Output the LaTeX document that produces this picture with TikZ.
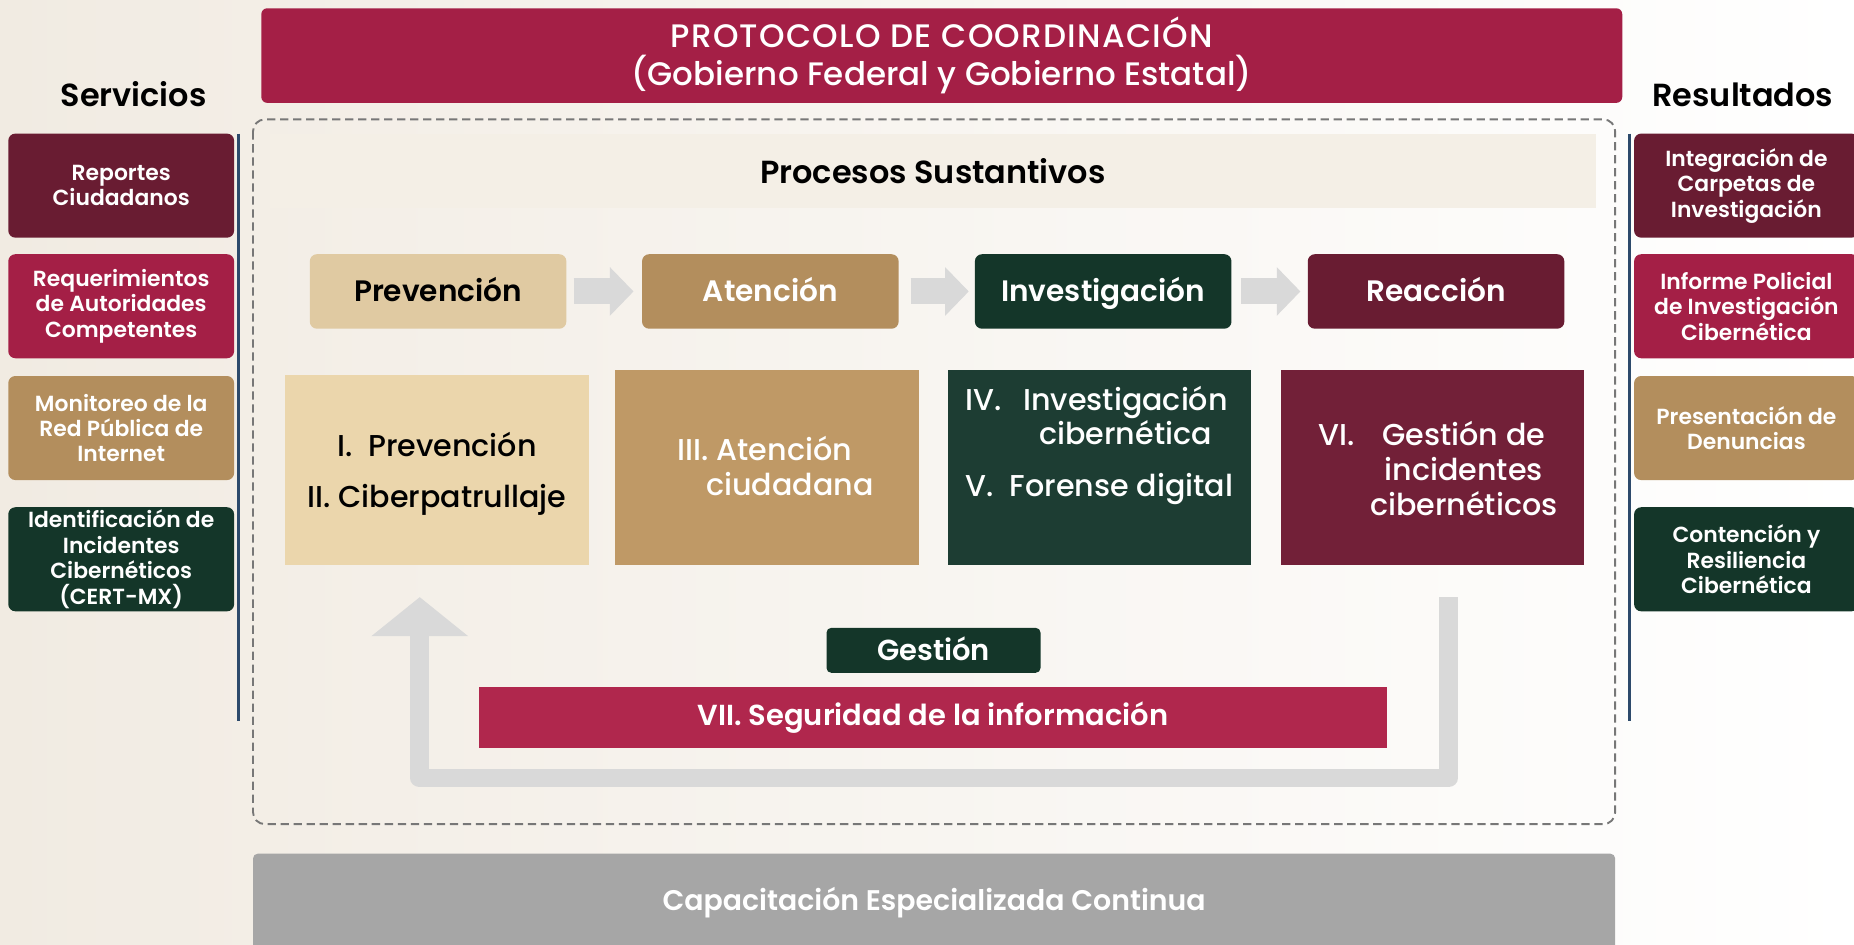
\documentclass[tikz,border=0pt]{standalone}
\usepackage{fontspec}
\setmainfont{Poppins}
\IfFontExistsTF{Poppins Medium}{\newfontfamily\fmed{Poppins Medium}}{\newfontfamily\fmed{Poppins}}
\IfFontExistsTF{Poppins SemiBold}{\newfontfamily\fsemi{Poppins SemiBold}}{\let\fsemi\bfseries}
\usetikzlibrary{arrows.meta,calc}
\definecolor{crimson}{HTML}{A41F46}
\definecolor{maroon}{HTML}{691C32}
\definecolor{gold}{HTML}{B38E5D}
\definecolor{dgreen}{HTML}{143629}
\definecolor{tanlight}{HTML}{E0CAA2}
\definecolor{beige}{HTML}{EBD6AC}
\definecolor{tanmid}{HTML}{BF9966}
\definecolor{cgreen}{HTML}{1D3D33}
\definecolor{cmaroon}{HTML}{722038}
\definecolor{seccol}{HTML}{B0274D}
\definecolor{arrowgray}{HTML}{D9D9D9}
\definecolor{bargray}{HTML}{A6A6A6}
\definecolor{bandcol}{HTML}{F4EFE6}
\definecolor{navy}{HTML}{2D4A6B}
\definecolor{dashgray}{HTML}{777777}
\definecolor{bgL}{HTML}{F1EBE2}
\definecolor{bgM}{HTML}{FAF8F4}
\newcommand\fsz[2]{\fontsize{#1}{#2}\selectfont}
\tikzset{
  sidebox/.style={rectangle, rounded corners=6pt, inner sep=0pt, minimum width=191pt, minimum height=88pt, align=center, text=white, font=\fsemi\fsz{18.5}{21.5}},
  stagebox/.style={rectangle, rounded corners=6pt, inner sep=0pt, minimum width=217pt, minimum height=63pt, align=center, text height=20pt, text depth=2.5pt, font=\fsemi\fsz{25}{28}},
  contbox/.style={rectangle, inner sep=0pt, minimum width=257pt, align=center, font=\fmed\fsz{25.5}{29.5}},
  conttext/.style={inner sep=0pt, font=\fmed\fsz{25.5}{29.5}},
  flowarrow/.style={draw=arrowgray, line width=22pt, -{Triangle[length=20pt,width=40pt]}},
  loopline/.style={draw=arrowgray, line width=16pt, line join=round, -{Triangle[length=33pt,width=80pt]}},
}
\begin{document}
\begin{tikzpicture}[x=1pt,y=-1pt]
\useasboundingbox (0,0) rectangle (1568,799);
\shade[left color=bgL, middle color=bgM, right color=white] (0,0) rectangle (1568,799);

% title banner
\node[rectangle, rounded corners=5pt, fill=crimson, minimum width=1151pt, minimum height=80pt, inner sep=0pt, text=white, align=center, font=\fmed\fsz{27.5}{32}] (title) at (796.5,47) {\addfontfeatures{LetterSpace=4}PROTOCOLO DE COORDINACIÓN\\(Gobierno Federal y Gobierno Estatal)};

% column titles
\node[font=\fsemi\fsz{27}{30}] (serv) at (113,80) {Servicios};
\node[font=\fsemi\fsz{27}{30}] (res) at (1474,80) {Resultados};

% dashed container
\draw[dashgray, dashed, line width=1.6pt, dash pattern=on 7pt off 4pt, rounded corners=10pt] (214,101) rectangle (1366,697);

% procesos band
\node[rectangle, fill=bandcol, minimum width=1122pt, minimum height=63pt, inner sep=0pt, font=\fsemi\fsz{27}{30}] (band) at (789,144.5) {Procesos Sustantivos};

% vertical lines
\coordinate (lt) at (202,113); \coordinate (lb) at (202,610);
\coordinate (rt) at (1378,113); \coordinate (rb) at (1378,610);
\draw[navy, line width=2.5pt] (lt) -- (lb);
\draw[navy, line width=2.5pt] (rt) -- (rb);

% left boxes
\node[sidebox, fill=maroon] (s1) at (102.5,157) {Reportes\\Ciudadanos};
\node[sidebox, fill=crimson] (s2) at (102.5,259) {Requerimientos\\de Autoridades\\Competentes};
\node[sidebox, fill=gold] (s3) at (102.5,362) {Monitoreo de la\\Red Pública de\\Internet};
\node[sidebox, fill=dgreen] (s4) at (102.5,473) {Identificación de\\Incidentes\\Cibernéticos\\(CERT-MX)};

% right boxes
\node[sidebox, fill=maroon, minimum width=190pt] (r1) at (1477,157) {Integración de\\Carpetas de\\Investigación};
\node[sidebox, fill=crimson, minimum width=190pt] (r2) at (1477,259) {Informe Policial\\de Investigación\\Cibernética};
\node[sidebox, fill=gold, minimum width=190pt] (r3) at (1477,362) {Presentación de\\Denuncias};
\node[sidebox, fill=dgreen, minimum width=190pt] (r4) at (1477,473) {Contención y\\Resiliencia\\Cibernética};

% stage headers
\node[stagebox, fill=tanlight, text=black] (h1) at (370.5,246.5) {Prevención};
\node[stagebox, fill=gold, text=white] (h2) at (651.5,246.5) {Atención};
\node[stagebox, fill=dgreen, text=white] (h3) at (933,246.5) {Investigación};
\node[stagebox, fill=maroon, text=white] (h4) at (1214.5,246.5) {Reacción};

\draw[flowarrow] ([xshift=6pt]h1.east) -- ([xshift=-7pt]h2.west);
\draw[flowarrow] ([xshift=10pt]h2.east) -- ([xshift=-5pt]h3.west);
\draw[flowarrow] ([xshift=8pt]h3.east) -- ([xshift=-6pt]h4.west);

% content boxes
\node[contbox, fill=beige, minimum height=161pt] (c1) at (369.5,397.5) {};
\node[conttext, text=black, align=center, anchor=base] (c1t) at (369.5,429) {I.\ \ Prevención\\[13pt]II. Ciberpatrullaje};
\node[contbox, fill=tanmid, minimum height=165pt] (c2) at (648.5,395.5) {};
\node[conttext, text=white, align=left, anchor=base west] (c2t) at (573,419) {III. Atención\\\hspace*{24pt}ciudadana};
\node[contbox, fill=cgreen, minimum height=165pt, minimum width=256pt] (c3) at (930,395.5) {};
\node[conttext, text=white, anchor=north] (c3t) at (930,326) {\begin{tabular}{@{}l@{\ \ }c@{}}IV. & Investigación\\ & cibernética\\[14pt]\multicolumn{2}{@{}l@{}}{V.\ \ Forense digital}\end{tabular}};
\node[contbox, fill=cmaroon, minimum height=165pt] (c4) at (1211.5,395.5) {};
\node[conttext, text=white, anchor=north] (c4t) at (1216,356) {\begin{tabular}{@{}l@{\ \ }c@{}}VI. & Gestión de\\ & incidentes\\ & cibernéticos\end{tabular}};

% gestion
\node[rectangle, rounded corners=4pt, fill=dgreen, text=white, minimum width=181pt, minimum height=38pt, inner sep=0pt, text height=19pt, text depth=1pt, font=\fsemi\fsz{24.5}{26}] (gest) at (789.5,550) {Gestión};
\node[rectangle, fill=seccol, text=white, minimum width=768pt, minimum height=52pt, inner sep=0pt, font=\fsemi\fsz{24.5}{28}] (sec) at (789,607) {VII. Seguridad de la información};

% loop arrow
\coordinate (loopS) at (1225,505);
\coordinate (loopE) at (355,505);
\draw[loopline] (loopS) -- (1225,658) -| (loopE);

% bottom bar
\node[rectangle, rounded corners=4pt, fill=bargray, minimum width=1152pt, minimum height=100pt, inner sep=0pt] (bar) at (790,772) {};
\node[text=white, font=\fsemi\fsz{24}{28}] (bartxt) at (790,763) {Capacitación Especializada Continua};
\end{tikzpicture}
\end{document}
